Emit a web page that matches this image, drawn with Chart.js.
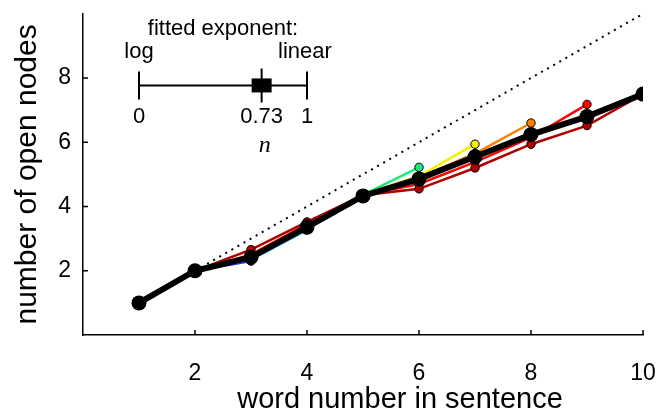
<!DOCTYPE html>
<html>
<head>
<meta charset="utf-8">
<script src="https://cdn.jsdelivr.net/npm/chart.js@4"></script>
<style>
html, body { margin: 0; padding: 0; background: #fff; }
#wrap { width: 658px; height: 414px; }
</style>
</head>
<body>
<div id="wrap"><canvas id="grafico"></canvas></div>
<script>
const palavras = [1, 2, 3, 4, 5, 6, 7, 8, 9, 10];
const media = [1, 2, 2.42, 3.36, 4.33, 4.86, 5.55, 6.24, 6.8, 7.5];

// one curve per sentence length (3..10 words)
const comprimentos = [3, 4, 5, 6, 7, 8, 9, 10];
const cores = ['#1a3cff', '#00a8ff', '#00e0d0', '#20e878', '#f2f200', '#ff8000', '#ff0000', '#b00000'];
const curvas = [
  [1, 2, 2.3],
  [1, 2, 2.35, 3.27],
  [1, 2, 2.4, 3.35, 4.3],
  [1, 2, 2.45, 3.4, 4.36, 5.22],
  [1, 2, 2.45, 3.4, 4.36, 4.95, 5.94],
  [1, 2, 2.45, 3.42, 4.35, 4.9, 5.65, 6.6],
  [1, 2, 2.5, 3.45, 4.35, 4.7, 5.38, 6.15, 7.18],
  [1, 2, 2.66, 3.52, 4.35, 4.55, 5.2, 5.94, 6.52, 7.5]
];

const linearX = [2, 10];
const linearY = [2, 10];

const rotulosX = [2, 4, 6, 8, 10];
const rotulosY = [2, 4, 6, 8];

const tituloX = 'word number in sentence';
const tituloY = 'number of open nodes';

// inset: fitted exponent between log (0) and linear (1)
const expoente = 0.73;
const insetDe = 1;
const insetAte = 4;
const insetNivel = 7.77;

const fonte = 'Liberation Sans, Arial, sans-serif';

const datasets = [];

datasets.push({
  data: media.map((v, i) => ({ x: palavras[i], y: v })),
  borderColor: '#000',
  backgroundColor: '#000',
  borderWidth: 6,
  pointRadius: 7.5,
  pointBorderWidth: 0,
  order: 0
});

curvas.forEach((c, k) => {
  datasets.push({
    data: c.map((v, i) => ({ x: palavras[i], y: v })),
    borderColor: cores[k],
    backgroundColor: cores[k],
    borderWidth: 2.5,
    pointRadius: 4.2,
    pointBorderColor: '#000',
    pointBorderWidth: 1,
    order: comprimentos.length - k
  });
});

datasets.push({
  data: linearX.map((v, i) => ({ x: v, y: linearY[i] })),
  borderColor: '#000',
  borderWidth: 2,
  borderDash: [2, 5],
  pointRadius: 0,
  order: 20
});

const tiquesPlugin = {
  id: 'tiques',
  afterDraw(chart) {
    const { ctx, scales: { x, y } } = chart;
    ctx.save();
    ctx.strokeStyle = '#000';
    ctx.lineWidth = 1.5;
    rotulosX.forEach(v => {
      const px = x.getPixelForValue(v);
      ctx.beginPath();
      ctx.moveTo(px, y.bottom);
      ctx.lineTo(px, y.bottom - 5);
      ctx.stroke();
    });
    rotulosY.forEach(v => {
      const py = y.getPixelForValue(v);
      ctx.beginPath();
      ctx.moveTo(x.left, py);
      ctx.lineTo(x.left + 5, py);
      ctx.stroke();
    });
    // x axis title sits a bit right of the axis centre in the original
    ctx.fillStyle = '#000';
    ctx.font = '29px ' + fonte;
    ctx.textAlign = 'center';
    ctx.textBaseline = 'middle';
    ctx.fillText(tituloX, (x.left + x.right) / 2 + 37, 400);
    ctx.restore();
  }
};

const insetPlugin = {
  id: 'inset',
  afterDraw(chart) {
    const { ctx, scales: { x, y } } = chart;
    const x0 = x.getPixelForValue(insetDe);
    const x1 = x.getPixelForValue(insetAte);
    const yy = y.getPixelForValue(insetNivel);
    const xn = x0 + (x1 - x0) * expoente;
    ctx.save();
    ctx.strokeStyle = '#000';
    ctx.fillStyle = '#000';
    ctx.lineWidth = 2;
    ctx.beginPath();
    ctx.moveTo(x0, yy); ctx.lineTo(x1, yy);
    ctx.moveTo(x0, yy - 14); ctx.lineTo(x0, yy + 14);
    ctx.moveTo(x1, yy - 14); ctx.lineTo(x1, yy + 14);
    ctx.moveTo(xn, yy - 17); ctx.lineTo(xn, yy + 17);
    ctx.stroke();
    ctx.fillRect(xn - 10, yy - 7, 20, 14);

    ctx.textAlign = 'center';
    ctx.textBaseline = 'middle';
    ctx.font = '22px ' + fonte;
    ctx.fillText('fitted exponent:', (x0 + x1) / 2, yy - 56);
    ctx.fillText('log', x0, yy - 33);
    ctx.fillText('linear', x1 - 2, yy - 33);
    ctx.fillText('0', x0, yy + 32);
    ctx.fillText(String(expoente), xn, yy + 32);
    ctx.fillText('1', x1, yy + 32);
    ctx.font = 'italic 24px "Liberation Serif", serif';
    ctx.fillText('n', xn + 3, yy + 60);
    ctx.restore();
  }
};

new Chart(document.getElementById('grafico'), {
  type: 'line',
  data: { datasets },
  plugins: [tiquesPlugin, insetPlugin],
  options: {
    responsive: true,
    maintainAspectRatio: false,
    animation: false,
    layout: { padding: { top: 12, right: 15, left: 0, bottom: 0 } },
    plugins: { legend: { display: false }, tooltip: { enabled: false } },
    scales: {
      x: {
        type: 'linear',
        min: 0,
        max: 10,
        afterFit: s => { s.height = 79; },
        ticks: {
          stepSize: 2,
          autoSkip: false,
          maxRotation: 0,
          padding: 0,
          color: '#000',
          font: { family: fonte, size: 23 },
          callback: v => rotulosX.includes(v) ? String(v) : ''
        },
        grid: { drawOnChartArea: false, drawTicks: true, tickLength: 25, tickColor: 'rgba(0,0,0,0)' },
        border: { color: '#000', width: 1.5 }
      },
      y: {
        min: 0,
        max: 10,
        afterFit: s => { s.width = 83; },
        ticks: {
          stepSize: 2,
          autoSkip: false,
          padding: 0,
          color: '#000',
          font: { family: fonte, size: 23 },
          callback: v => rotulosY.includes(v) ? String(v) : ''
        },
        grid: { drawOnChartArea: false, drawTicks: true, tickLength: 12, tickColor: 'rgba(0,0,0,0)' },
        border: { color: '#000', width: 1.5 },
        title: {
          display: true,
          text: tituloY,
          color: '#000',
          font: { family: fonte, size: 30 },
          padding: { top: 10, bottom: 0 }
        }
      }
    }
  }
});
</script>
</body>
</html>
